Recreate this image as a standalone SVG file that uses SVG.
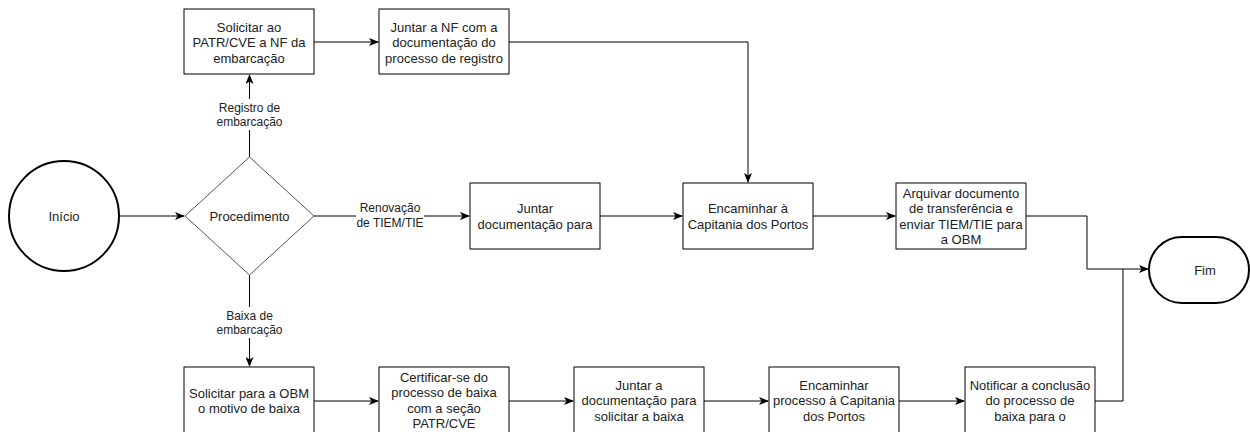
<svg xmlns="http://www.w3.org/2000/svg" width="1250" height="432" viewBox="0 0 1250 432">
<style>
.box{fill:#fff;stroke:#000;stroke-width:1}
.dia{fill:#fff;stroke:#555;stroke-width:1}
.term{fill:#fff;stroke:#000;stroke-width:2}
.t{font-family:"Liberation Sans",Helvetica,Arial,sans-serif;font-size:13px;fill:#222;text-anchor:middle;dominant-baseline:central}
.lbl{font-family:"Liberation Sans",Helvetica,Arial,sans-serif;font-size:12px;fill:#222;text-anchor:middle;dominant-baseline:central}
.c{fill:none;stroke:#000;stroke-width:1}
.lb{fill:#fff;stroke:none}
</style>
<defs>
<marker id="ah" viewBox="0 0 10 8" refX="9" refY="4" markerWidth="10" markerHeight="8" markerUnits="userSpaceOnUse" orient="auto">
<path d="M0,0 L10,4 L0,8 L2.5,4 Z" fill="#000"/>
</marker>
</defs>
<g id="connectors">
<path class="c" d="M314,42 H378" marker-end="url(#ah)"/>
<path class="c" d="M509,42 H748 V182" marker-end="url(#ah)"/>
<path class="c" d="M119,216 H184" marker-end="url(#ah)"/>
<path class="c" d="M249.5,157 V75" marker-end="url(#ah)"/>
<path class="c" d="M314,216 H469" marker-end="url(#ah)"/>
<path class="c" d="M249.5,275 V366" marker-end="url(#ah)"/>
<path class="c" d="M600,216 H682" marker-end="url(#ah)"/>
<path class="c" d="M813,216 H895" marker-end="url(#ah)"/>
<path class="c" d="M1026,216 H1087 V269 H1148" marker-end="url(#ah)"/>
<path class="c" d="M314,401 H378" marker-end="url(#ah)"/>
<path class="c" d="M509,401 H573" marker-end="url(#ah)"/>
<path class="c" d="M704,401 H768" marker-end="url(#ah)"/>
<path class="c" d="M899,401 H964" marker-end="url(#ah)"/>
<path class="c" d="M1095,401 H1123 V269"/>
<rect class="lb" x="218" y="99" width="63" height="31"/>
<text class="lbl" x="249.5" y="108">Registro de</text>
<text class="lbl" x="249.5" y="122">embarcação</text>
<rect class="lb" x="356" y="200" width="68" height="31"/>
<text class="lbl" x="390" y="208">Renovação</text>
<text class="lbl" x="390" y="223">de TIEM/TIE</text>
<rect class="lb" x="218" y="307" width="63" height="31"/>
<text class="lbl" x="249.5" y="316">Baixa de</text>
<text class="lbl" x="249.5" y="330">embarcação</text>
</g>
<g id="inicio">
<circle class="term" cx="64" cy="216" r="55"/>
<text class="t" x="64" y="216">Início</text>
</g>
<g id="procedimento">
<polygon class="dia" points="249.5,157 314,216 249.5,275 185,216"/>
<text class="t" x="249.5" y="216">Procedimento</text>
</g>
<g id="solicitar-nf">
<rect class="box" x="184" y="9" width="130" height="65"/>
<text class="t" x="249" y="27">Solicitar ao</text>
<text class="t" x="249" y="42.5">PATR/CVE a NF da</text>
<text class="t" x="249" y="58">embarcação</text>
</g>
<g id="juntar-nf">
<rect class="box" x="379" y="9" width="130" height="65"/>
<text class="t" x="444" y="27">Juntar a NF com a</text>
<text class="t" x="444" y="42.5">documentação do</text>
<text class="t" x="444" y="58">processo de registro</text>
</g>
<g id="juntar-doc">
<rect class="box" x="470" y="183" width="130" height="66"/>
<text class="t" x="535" y="208.5">Juntar</text>
<text class="t" x="535" y="224">documentação para</text>
</g>
<g id="encaminhar">
<rect class="box" x="683" y="183" width="130" height="66"/>
<text class="t" x="748" y="208.5">Encaminhar à</text>
<text class="t" x="748" y="224">Capitania dos Portos</text>
</g>
<g id="arquivar">
<rect class="box" x="896" y="183" width="130" height="66"/>
<text class="t" x="961" y="193">Arquivar documento</text>
<text class="t" x="961" y="208.5">de transferência e</text>
<text class="t" x="961" y="224">enviar TIEM/TIE para</text>
<text class="t" x="961" y="239.5">a OBM</text>
</g>
<g id="fim">
<rect class="term" x="1149" y="237" width="100" height="66" rx="33" ry="33"/>
<text class="t" x="1205" y="270">Fim</text>
</g>
<g id="solicitar-obm">
<rect class="box" x="184" y="367" width="130" height="68"/>
<text class="t" x="249" y="393">Solicitar para a OBM</text>
<text class="t" x="249" y="408.5">o motivo de baixa</text>
</g>
<g id="certificar">
<rect class="box" x="379" y="367" width="130" height="68"/>
<text class="t" x="444" y="377">Certificar-se do</text>
<text class="t" x="444" y="392.5">processo de baixa</text>
<text class="t" x="444" y="408">com a seção</text>
<text class="t" x="444" y="423.5">PATR/CVE</text>
</g>
<g id="juntar-baixa">
<rect class="box" x="574" y="367" width="130" height="68"/>
<text class="t" x="639" y="385">Juntar a</text>
<text class="t" x="639" y="400.5">documentação para</text>
<text class="t" x="639" y="416">solicitar a baixa</text>
</g>
<g id="encaminhar-processo">
<rect class="box" x="769" y="367" width="130" height="68"/>
<text class="t" x="834" y="385">Encaminhar</text>
<text class="t" x="834" y="400.5">processo à Capitania</text>
<text class="t" x="834" y="416">dos Portos</text>
</g>
<g id="notificar">
<rect class="box" x="965" y="367" width="130" height="68"/>
<text class="t" x="1030" y="385">Notificar a conclusão</text>
<text class="t" x="1030" y="400.5">do processo de</text>
<text class="t" x="1030" y="416">baixa para o</text>
</g>
</svg>
